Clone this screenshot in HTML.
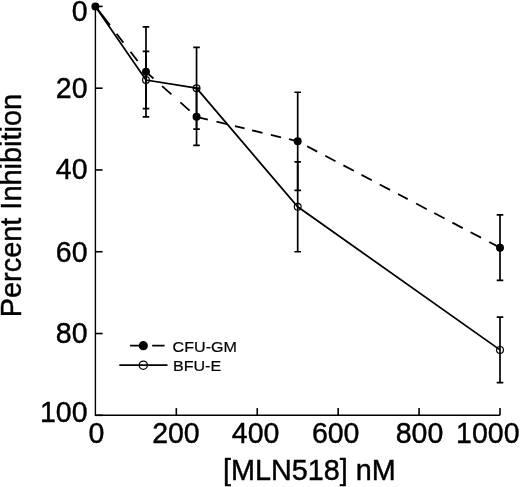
<!DOCTYPE html>
<html><head><meta charset="utf-8"><style>
html,body{margin:0;padding:0;background:#fff;}
svg{display:block;will-change:transform;}
text{font-family:"Liberation Sans",sans-serif;fill:#000;stroke:#000;stroke-width:0.42px;}
</style></head><body>
<svg width="520" height="487" viewBox="0 0 520 487">
<rect width="520" height="487" fill="#fff"/>
<path d="M95.4 6.40 V415.30 H500.00" fill="none" stroke="#000" stroke-width="1.4"/>
<line x1="95.4" y1="6.40" x2="102.60" y2="6.40" stroke="#000" stroke-width="1.6"/>
<line x1="95.4" y1="88.18" x2="102.60" y2="88.18" stroke="#000" stroke-width="1.6"/>
<line x1="95.4" y1="169.96" x2="102.60" y2="169.96" stroke="#000" stroke-width="1.6"/>
<line x1="95.4" y1="251.74" x2="102.60" y2="251.74" stroke="#000" stroke-width="1.6"/>
<line x1="95.4" y1="333.52" x2="102.60" y2="333.52" stroke="#000" stroke-width="1.6"/>
<line x1="95.4" y1="415.30" x2="102.60" y2="415.30" stroke="#000" stroke-width="1.6"/>
<line x1="176.32" y1="415.30" x2="176.32" y2="408.10" stroke="#000" stroke-width="1.6"/>
<line x1="257.24" y1="415.30" x2="257.24" y2="408.10" stroke="#000" stroke-width="1.6"/>
<line x1="338.16" y1="415.30" x2="338.16" y2="408.10" stroke="#000" stroke-width="1.6"/>
<line x1="419.08" y1="415.30" x2="419.08" y2="408.10" stroke="#000" stroke-width="1.6"/>
<line x1="500.00" y1="415.30" x2="500.00" y2="408.10" stroke="#000" stroke-width="1.6"/>
<path d="M145.98 26.84 V116.80 M142.68 26.84 H149.28 M142.68 116.80 H149.28" stroke="#000" stroke-width="1.7" fill="none"/>
<path d="M196.55 88.18 V145.43 M193.25 88.18 H199.85 M193.25 145.43 H199.85" stroke="#000" stroke-width="1.7" fill="none"/>
<path d="M297.70 92.27 V190.41 M294.40 92.27 H301.00 M294.40 190.41 H301.00" stroke="#000" stroke-width="1.7" fill="none"/>
<path d="M500.00 214.94 V280.36 M496.70 214.94 H503.30 M496.70 280.36 H503.30" stroke="#000" stroke-width="1.7" fill="none"/>
<path d="M145.98 51.38 V108.63 M142.68 51.38 H149.28 M142.68 108.63 H149.28" stroke="#000" stroke-width="1.7" fill="none"/>
<path d="M196.55 47.29 V129.07 M193.25 47.29 H199.85 M193.25 129.07 H199.85" stroke="#000" stroke-width="1.7" fill="none"/>
<path d="M297.70 161.78 V251.74 M294.40 161.78 H301.00 M294.40 251.74 H301.00" stroke="#000" stroke-width="1.7" fill="none"/>
<path d="M500.00 317.16 V382.59 M496.70 317.16 H503.30 M496.70 382.59 H503.30" stroke="#000" stroke-width="1.7" fill="none"/>
<polyline points="95.40,6.40 145.98,80.00 196.55,88.18 297.70,206.76 500.00,349.88" fill="none" stroke="#000" stroke-width="1.75"/>
<path d="M95.40 6.40 L109.90 25.16 M116.60 33.82 L123.40 42.62 M130.50 51.81 L137.60 60.99 M144.50 69.92 L145.98 71.82 M145.98 71.82 L153.50 78.52 M162.10 86.16 L171.40 94.44 M180.40 102.44 L189.60 110.62 M196.55 116.80 L207.80 119.53 M216.50 121.64 L227.00 124.19 M235.00 126.13 L244.60 128.46 M252.10 130.28 L262.50 132.80 M270.90 134.84 L281.00 137.29 M289.00 139.23 L297.70 141.34 M307.10 146.28 L317.20 151.58 M325.20 155.79 L335.50 161.20 M343.40 165.35 L353.80 170.82 M361.50 174.87 L371.80 180.28 M379.70 184.43 L390.00 189.84 M398.00 194.05 L407.70 199.14 M416.10 203.56 L426.80 209.18 M434.20 213.07 L444.60 218.54 M452.40 222.64 L462.80 228.10 M470.60 232.20 L481.00 237.67 M489.20 241.98 L500.00 247.65" fill="none" stroke="#000" stroke-width="1.8"/>
<circle cx="95.40" cy="6.40" r="4.0" fill="#000"/>
<circle cx="145.98" cy="71.82" r="4.0" fill="#000"/>
<circle cx="196.55" cy="116.80" r="4.0" fill="#000"/>
<circle cx="297.70" cy="141.34" r="4.0" fill="#000"/>
<circle cx="500.00" cy="247.65" r="4.0" fill="#000"/>
<circle cx="145.98" cy="80.00" r="3.4" fill="none" stroke="#000" stroke-width="1.2"/>
<circle cx="196.55" cy="88.18" r="3.4" fill="none" stroke="#000" stroke-width="1.2"/>
<circle cx="297.70" cy="206.76" r="3.4" fill="none" stroke="#000" stroke-width="1.2"/>
<circle cx="500.00" cy="349.88" r="3.4" fill="none" stroke="#000" stroke-width="1.2"/>
<path d="M130 345.7 H143.3 M152.2 345.7 H164.6" stroke="#000" stroke-width="1.8"/>
<circle cx="143.3" cy="345.7" r="4.6" fill="#000"/>
<path d="M119.3 365.2 H167.5" stroke="#000" stroke-width="1.75"/>
<circle cx="143.3" cy="365.2" r="4.1" fill="none" stroke="#000" stroke-width="1.3"/>
<text transform="translate(87.5 20.57) scale(1 1.05)" text-anchor="end" font-size="28.5">0</text>
<text transform="translate(87.5 97.67) scale(1 1.05)" text-anchor="end" font-size="28.5">20</text>
<text transform="translate(87.5 179.27) scale(1 1.05)" text-anchor="end" font-size="28.5">40</text>
<text transform="translate(87.5 262.27) scale(1 1.05)" text-anchor="end" font-size="28.5">60</text>
<text transform="translate(87.5 343.07) scale(1 1.05)" text-anchor="end" font-size="28.5">80</text>
<text transform="translate(87.5 421.87) scale(1 1.05)" text-anchor="end" font-size="28.5">100</text>
<text transform="translate(96.5 442.6) scale(1 1.05)" text-anchor="middle" font-size="28.5">0</text>
<text transform="translate(175.9 442.6) scale(1 1.05)" text-anchor="middle" font-size="28.5">200</text>
<text transform="translate(255.6 442.6) scale(1 1.05)" text-anchor="middle" font-size="28.5">400</text>
<text transform="translate(335.7 442.6) scale(1 1.05)" text-anchor="middle" font-size="28.5">600</text>
<text transform="translate(419.5 442.6) scale(1 1.05)" text-anchor="middle" font-size="28.5">800</text>
<text transform="translate(487.8 442.6) scale(1 1.05)" text-anchor="middle" font-size="28.5">1000</text>
<text transform="translate(309.4 480.1) scale(1 1.025)" text-anchor="middle" font-size="28.8">[MLN518] nM</text>
<text transform="translate(21.3 205.6) rotate(-90)" text-anchor="middle" font-size="28.9">Percent Inhibition</text>
<text transform="translate(172.6 351.8) scale(1 0.94)" font-size="16.1" style="stroke-width:0.2px">CFU-GM</text>
<text transform="translate(172.9 370.9) scale(1 0.94)" font-size="16.1" style="stroke-width:0.2px">BFU-E</text>
</svg>
</body></html>
